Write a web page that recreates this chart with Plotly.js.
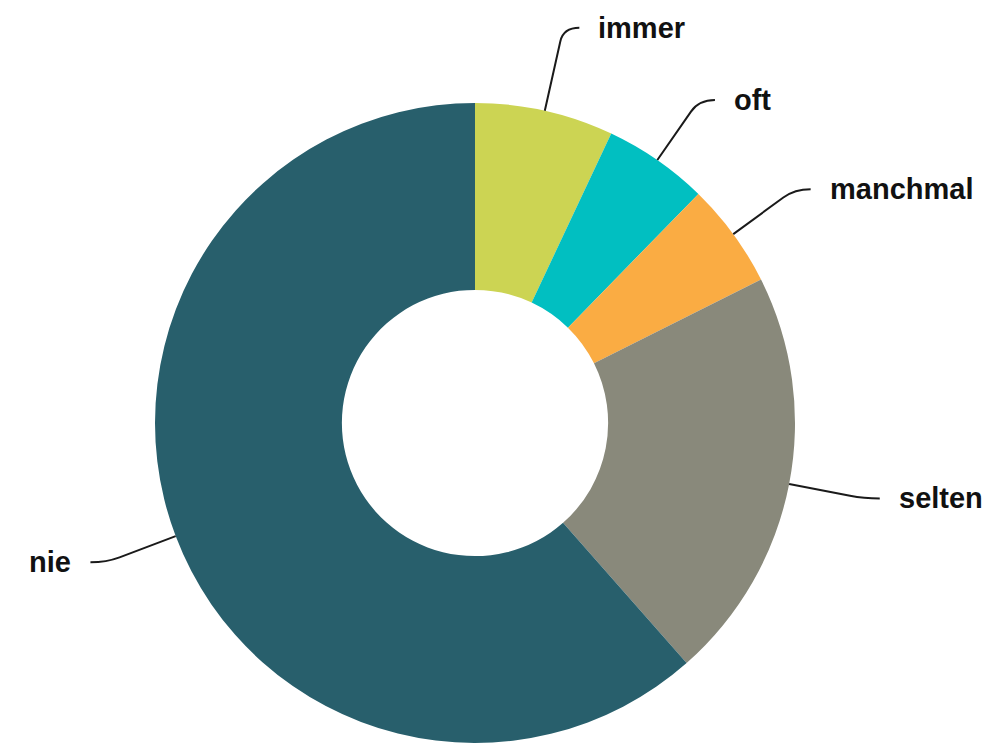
<!DOCTYPE html>
<html>
<head>
<meta charset="utf-8">
<script src="https://cdn.plot.ly/plotly-3.0.1.min.js"></script>
<style>
  html, body { margin: 0; padding: 0; background: #ffffff; }
  #chart { width: 985px; height: 744px; }
</style>
</head>
<body>
<div id="chart"></div>
<script>
// ---- data ----
const categories = ["immer", "oft", "manchmal", "selten", "nie"];
const shares = [7.0, 5.3, 5.3, 20.9, 61.5];
const sliceColors = ["#CCD453", "#01BFC1", "#FAAC43", "#89897B", "#285F6C"];

// ---- layout geometry (pixels) ----
const W = 985, H = 744;
const CX = 475, CY = 423, R = 320;
const HOLE = 0.416;
// radial length of each leader line (label layout style, per label)
const lineLengthStyle = { immer: 85, oft: 73, manchmal: 76, selten: 76, nie: 74 };
const LINE_LEN2 = 16;  // horizontal part
const TEXT_GAP = 17;
const FONT = { family: "Liberation Sans, Arial, sans-serif", size: 29, color: "#111111" };

const px = x => x / W;
const py = y => (H - y) / H;

const total = shares.reduce((a, b) => a + b, 0);
const shapes = [];
const annotations = [];
let acc = 0;
shares.forEach((v, i) => {
  const L = lineLengthStyle[categories[i]];
  const mid = (acc + v / 2) / total * 2 * Math.PI; // clockwise from 12 o'clock
  acc += v;
  const ux = Math.sin(mid), uy = -Math.cos(mid);
  const sx = CX + R * ux, sy = CY + R * uy;
  const ex = CX + (R + L) * ux, ey = CY + (R + L) * uy;
  const pxm = CX + (R + L - 14) * ux, pym = CY + (R + L - 14) * uy;
  const side = ux >= 0 ? 1 : -1;
  const fx = ex + side * LINE_LEN2, fy = ey;
  shapes.push({
    type: "path", xref: "paper", yref: "paper",
    path: `M ${px(sx)} ${py(sy)} L ${px(pxm)} ${py(pym)} Q ${px(ex)} ${py(ey)} ${px(fx)} ${py(fy)}`,
    line: { color: "#1a1a1a", width: 2 }
  });
  annotations.push({
    xref: "paper", yref: "paper",
    x: px(fx + side * TEXT_GAP), y: py(fy),
    xanchor: side > 0 ? "left" : "right", yanchor: "middle",
    text: "<b>" + categories[i] + "</b>",
    showarrow: false, font: FONT
  });
});

const trace = {
  type: "pie",
  labels: categories,
  values: shares,
  hole: HOLE,
  sort: false,
  direction: "clockwise",
  rotation: 0,
  textinfo: "none",
  hoverinfo: "label+percent",
  marker: { colors: sliceColors, line: { width: 0 } },
  domain: { x: [px(CX - R), px(CX + R)], y: [py(CY + R), py(CY - R)] },
  showlegend: false
};

const layout = {
  width: W, height: H,
  margin: { l: 0, r: 0, t: 0, b: 0 },
  paper_bgcolor: "#ffffff",
  plot_bgcolor: "#ffffff",
  showlegend: false,
  shapes: shapes,
  annotations: annotations
};

Plotly.newPlot("chart", [trace], layout, { displayModeBar: false, staticPlot: true });
</script>
</body>
</html>
